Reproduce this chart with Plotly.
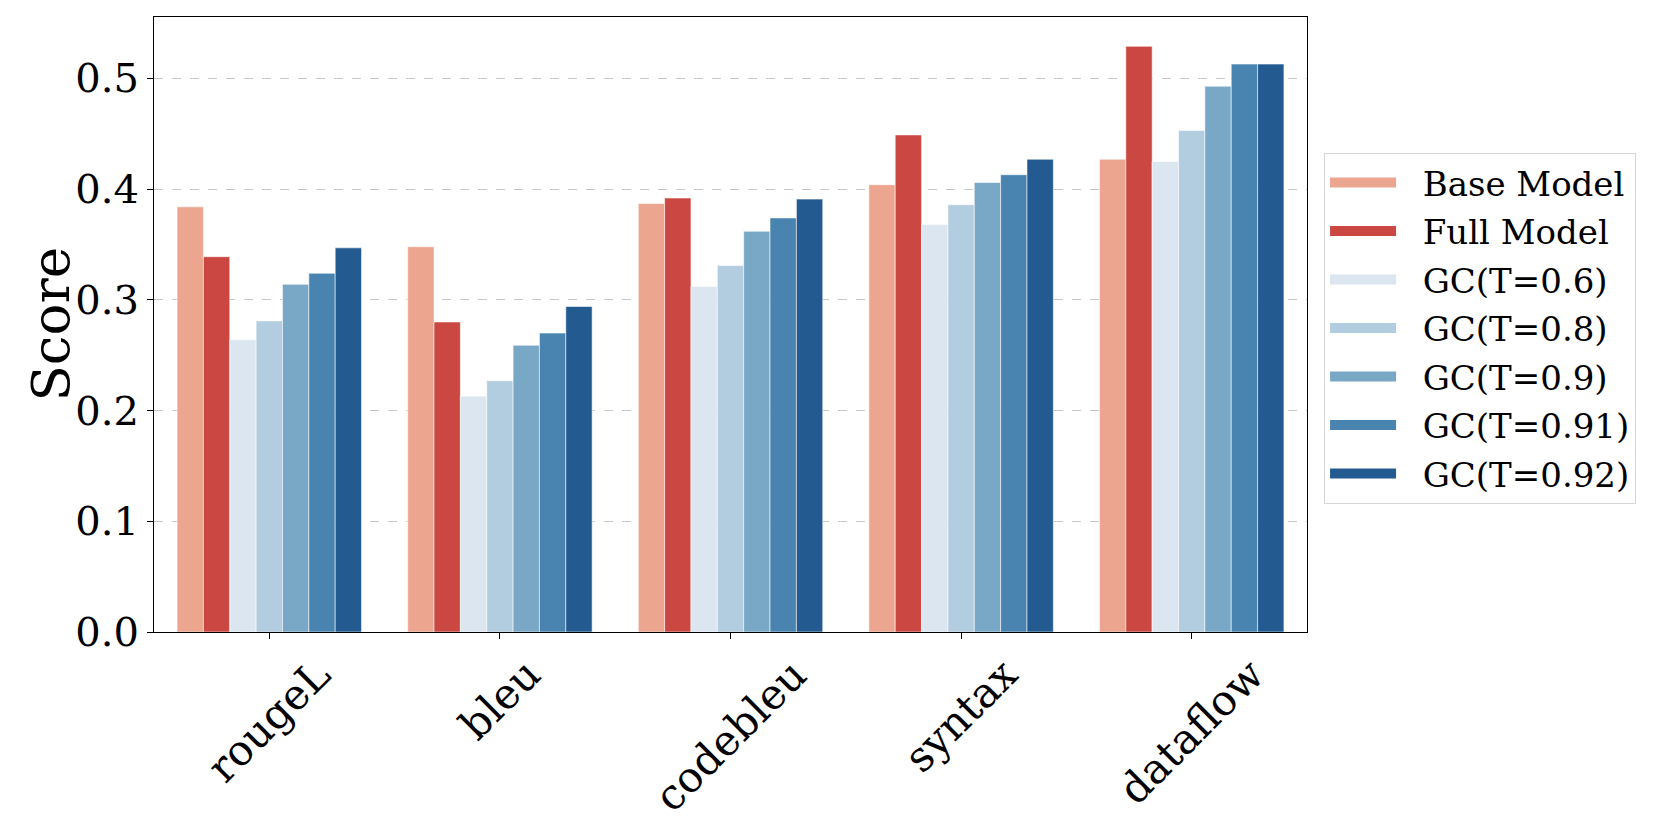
import plotly.graph_objects as go

categories = ["rougeL", "bleu", "codebleu", "syntax", "dataflow"]

series_names = ["Base Model", "Full Model", "GC(T=0.6)", "GC(T=0.8)",
                "GC(T=0.9)", "GC(T=0.91)", "GC(T=0.92)"]

base_model = [0.384, 0.348, 0.387, 0.404, 0.427]
full_model = [0.339, 0.280, 0.392, 0.449, 0.529]
gc_060 = [0.264, 0.213, 0.312, 0.368, 0.425]
gc_080 = [0.281, 0.227, 0.331, 0.386, 0.453]
gc_090 = [0.314, 0.259, 0.362, 0.406, 0.493]
gc_091 = [0.324, 0.270, 0.374, 0.413, 0.513]
gc_092 = [0.347, 0.294, 0.391, 0.427, 0.513]

series_values = [base_model, full_model, gc_060, gc_080, gc_090, gc_091, gc_092]
colors = ["#eca690", "#cb4741", "#dbe6f1", "#b3cde0", "#79a8c7", "#4983b0", "#235b91"]

y_ticks = [0.0, 0.1, 0.2, 0.3, 0.4, 0.5]

FONT = "DejaVu Serif"
NBSP = "\u00a0"

fig = go.Figure()
for name, vals, col in zip(series_names, series_values, colors):
    fig.add_trace(go.Bar(
        x=categories, y=vals, name=name,
        marker=dict(color=col, line=dict(color="rgba(255,255,255,0.55)", width=1)),
        showlegend=False,
    ))
    # legend proxy (wide swatch)
    fig.add_trace(go.Scatter(
        x=[None], y=[None], mode="lines", name=NBSP * 2 + name,
        line=dict(color=col, width=23), legendgroup=name,
        showlegend=True,
    ))

annotations = []
for c in categories:
    annotations.append(dict(
        x=c, xref="x", y=0, yref="paper", yanchor="top", xanchor="center",
        text=c, showarrow=False, textangle=-45, yshift=-15,
        font=dict(family=FONT, size=42, color="black"),
    ))
annotations.append(dict(
    x=0, xref="paper", y=0.5, yref="paper", xanchor="center", yanchor="middle",
    xshift=-104, text="Score", showarrow=False, textangle=-90,
    font=dict(family=FONT, size=53, color="black"),
))

fig.update_layout(
    width=1661, height=830,
    margin=dict(l=154, r=354, t=17, b=198, autoexpand=False),
    paper_bgcolor="white", plot_bgcolor="white",
    barmode="group", bargap=0.2, bargroupgap=0,
    font=dict(family=FONT, color="black"),
    annotations=annotations,
    legend=dict(
        x=1.0148, y=0.779, xanchor="left", yanchor="top",
        bordercolor="#d6d6d6", borderwidth=1,
        font=dict(family=FONT, size=34, color="black"),
        itemwidth=66, tracegroupgap=1.3,
    ),
    xaxis=dict(
        showline=True, linecolor="black", linewidth=1.3, mirror=True,
        ticks="outside", ticklen=6, tickwidth=1.3, tickcolor="black",
        showticklabels=False, showgrid=False, range=[-0.5, 4.5],
    ),
    yaxis=dict(
        range=[0, 0.5555], tickvals=y_ticks, tickformat=".1f",
        showline=True, linecolor="black", linewidth=1.3, mirror=True,
        ticks="outside", ticklen=6, tickwidth=1.3, tickcolor="black",
        tickfont=dict(family=FONT, size=40, color="black"),
        showgrid=True, gridcolor="#c8c8c8", griddash="dash", gridwidth=1,
        zeroline=False,
    ),
)

fig.write_html(
    "out.html",
    config={"displayModeBar": False},
    post_script="document.body.style.margin='0';document.body.style.overflow='hidden';",
)
